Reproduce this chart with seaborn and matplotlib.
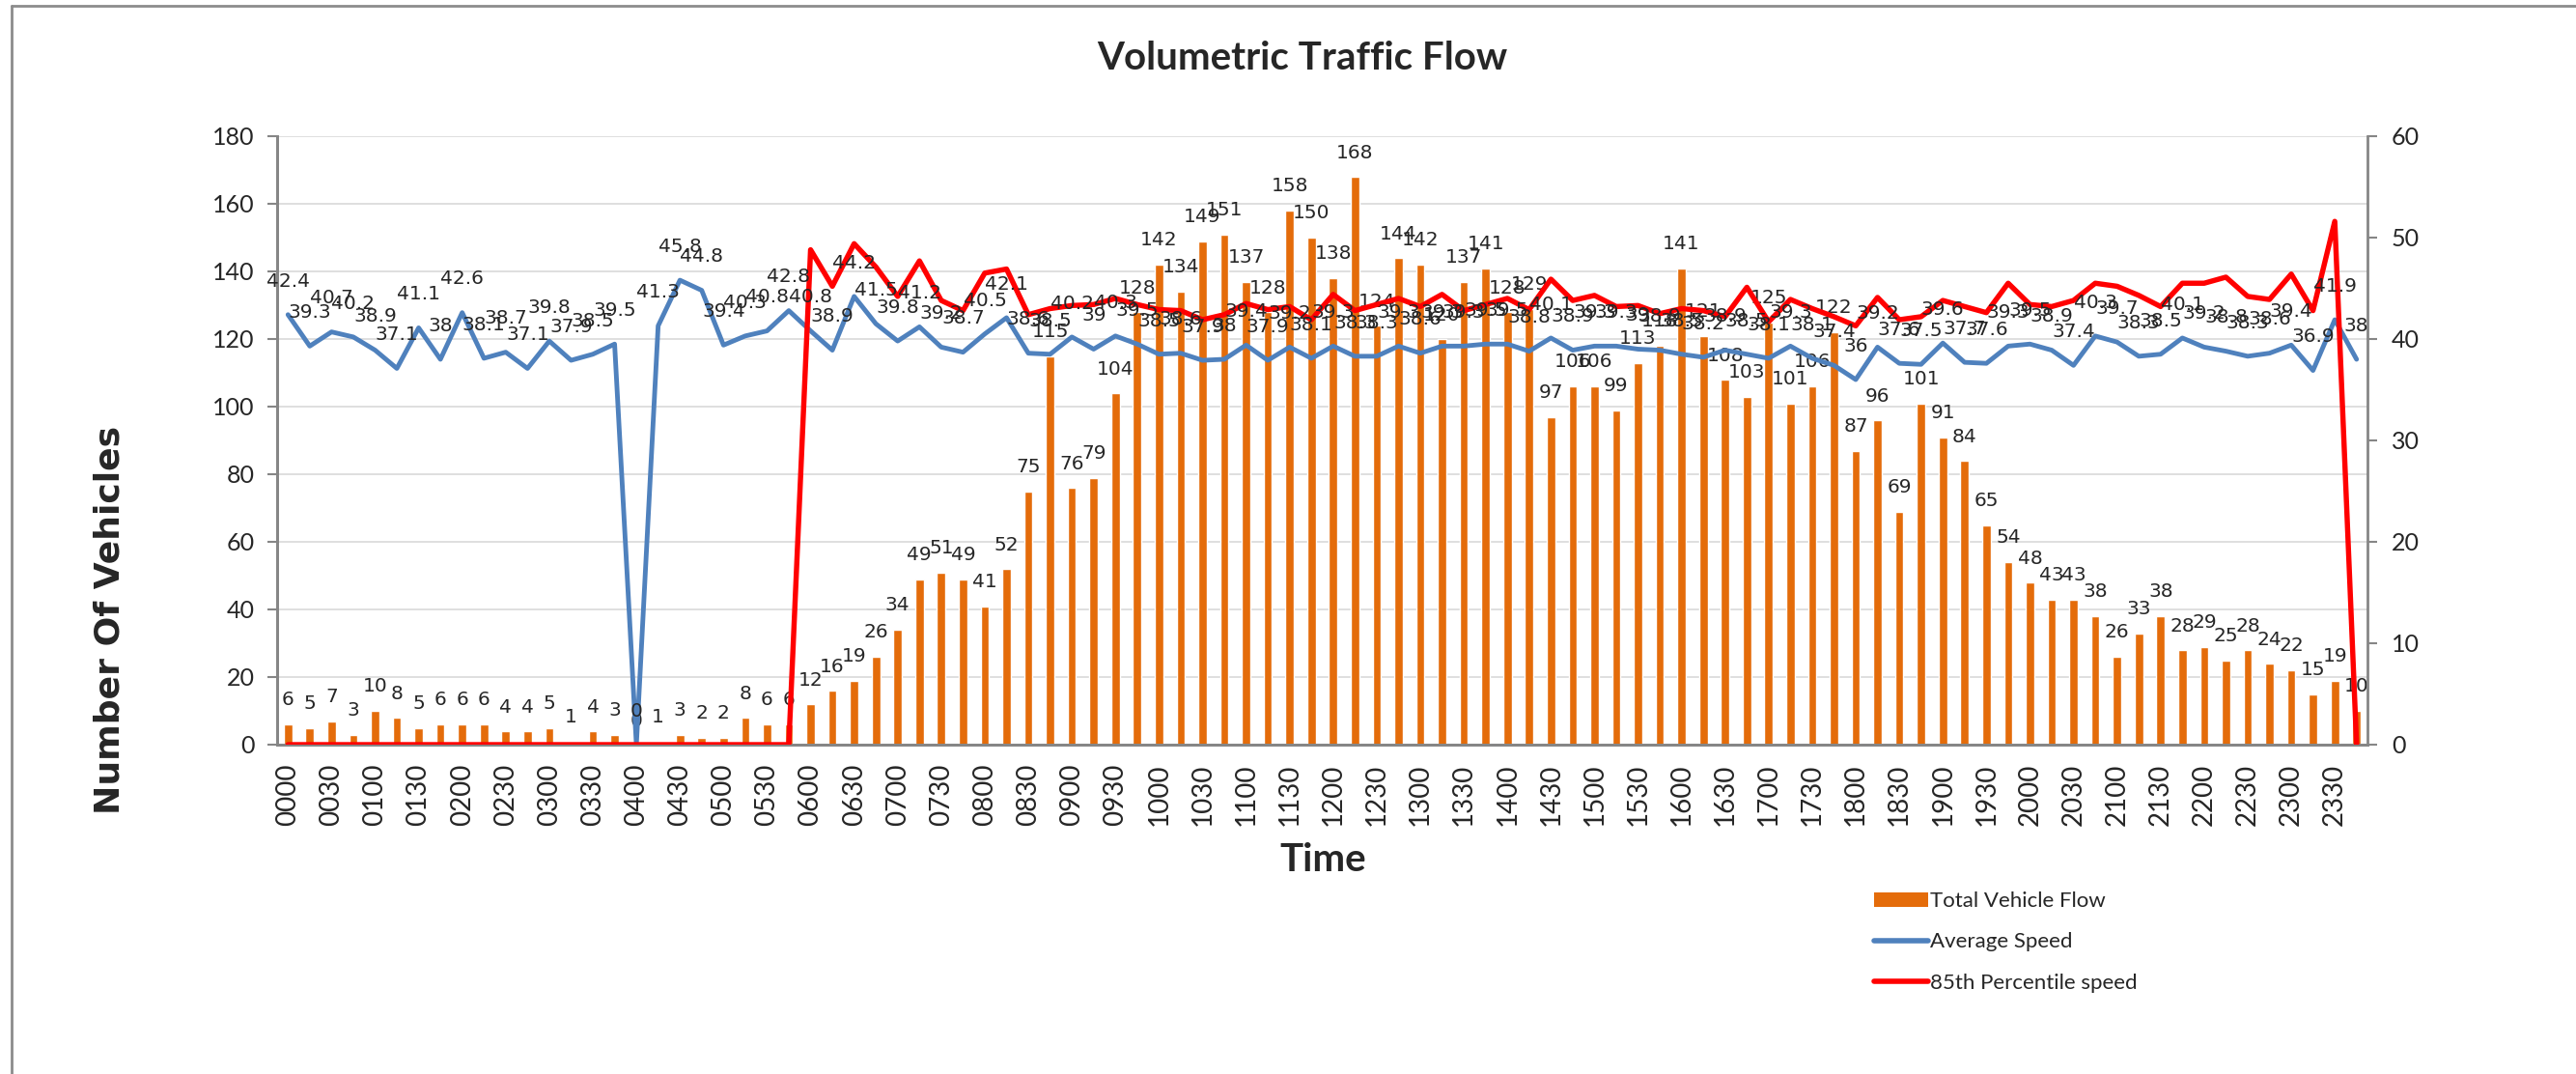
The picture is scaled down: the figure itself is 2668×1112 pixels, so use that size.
import numpy as np
import pandas as pd
import seaborn as sns
import matplotlib.pyplot as plt
from matplotlib.patches import Patch
from matplotlib.lines import Line2D

# 15 minute slots over the day
times = [f"{h:02d}{m:02d}" for h in range(24) for m in (0, 15, 30, 45)]

total_flow = [6, 5, 7, 3, 10, 8, 5, 6, 6, 6, 4, 4, 5, 1, 4, 3,
              0, 1, 3, 2, 2, 8, 6, 6,
              12, 16, 19, 26, 34, 49, 51, 49, 41, 52, 75, 115,
              76, 79, 104, 128, 142, 134, 149, 151, 137, 128, 158, 150, 138, 168, 124, 144, 142, 120, 137, 141,
              128, 129, 97, 106, 106, 99, 113, 118, 141, 121, 108, 103, 125, 101, 106, 122, 87, 96, 69, 101,
              91, 84, 65, 54, 48, 43, 43, 38, 26, 33, 38, 28, 29, 25, 28, 24, 22, 15, 19, 10]

avg_speed = [42.4, 39.3, 40.7, 40.2, 38.9, 37.1, 41.1, 38, 42.6, 38.1, 38.7, 37.1, 39.8, 37.9, 38.5, 39.5,
             0, 41.3, 45.8, 44.8, 39.4, 40.3, 40.8, 42.8,
             40.8, 38.9, 44.2, 41.5, 39.8, 41.2, 39.2, 38.7,
             40.5, 42.1, 38.6, 38.5, 40.2, 39, 40.3, 39.5, 38.5, 38.6, 37.9, 38, 39.4, 37.9, 39.2, 38.1,
             39.3, 38.3, 38.3, 39.3, 38.6, 39.3, 39.3, 39.5, 39.5, 38.8, 40.1, 38.9, 39.3, 39.3, 39, 38.9,
             38.5, 38.2, 38.9, 38.5, 38.1, 39.3, 38.1, 37.4, 36, 39.2, 37.6, 37.5, 39.6, 37.7, 37.6, 39.3,
             39.5, 38.9, 37.4, 40.3, 39.7, 38.3, 38.5, 40.1, 39.2, 38.8, 38.3, 38.6, 39.4, 36.9, 41.9, 38]

p85_speed = [0] * 24 + [
    48.8, 45.2, 49.4, 47.1, 44.2, 47.7, 43.8, 42.8,
    46.5, 46.9, 42.4, 43.0, 43.3, 43.4, 44.0, 43.4, 42.9, 42.8, 41.9, 42.4, 43.5, 42.9, 43.2, 41.9,
    44.4, 42.8, 43.4, 44.0, 43.2, 44.4, 42.8, 43.4, 44.0, 42.9, 45.9, 43.8, 44.3, 43.2, 43.3, 42.5,
    43.0, 42.8, 42.2, 45.1, 41.7, 43.9, 43.0, 42.2, 41.3, 44.1, 41.9, 42.2, 43.8, 43.2, 42.6, 45.5,
    43.4, 43.2, 43.8, 45.5, 45.2, 44.3, 43.2, 45.5, 45.5, 46.1, 44.2, 43.9, 46.4, 42.8, 51.6, 0]

df = pd.DataFrame({"Time": times, "Total Vehicle Flow": total_flow,
                   "Average Speed": avg_speed, "85th Percentile speed": p85_speed})
df["pos"] = np.arange(len(df))

orange = "#E46C0A"
blue = "#4F81BD"
red = "#FF0000"
axis_grey = "#868686"

sns.set_theme(style="white")
plt.rcParams["font.family"] = ["Lato", "DejaVu Sans"]

fig = plt.figure(figsize=(26.68, 11.12), dpi=100)
ax = fig.add_axes([287 / 2668, 1 - 771 / 1112, (2452 - 287) / 2668, 630 / 1112])

sns.barplot(data=df, x="Time", y="Total Vehicle Flow", color=orange, saturation=1,
            width=0.385, errorbar=None, ax=ax, zorder=2)
ax.set_ylim(0, 180)
ax.set_yticks(range(0, 181, 20))
ax.set_xlim(-0.5, 95.5)
ax.yaxis.grid(True, color="#D9D9D9", lw=1.2)
ax.set_axisbelow(True)

ax2 = ax.twinx()
sns.lineplot(data=df, x="pos", y="Average Speed", color=blue, lw=3.5, ax=ax2,
             legend=False, zorder=3, solid_joinstyle="round")
sns.lineplot(data=df, x="pos", y="85th Percentile speed", color=red, lw=3.9, ax=ax2,
             legend=False, zorder=4, solid_joinstyle="round")
ax2.set_ylim(0, 60)
ax2.set_yticks(range(0, 61, 10))
ax2.set_xlim(-0.5, 95.5)

# data labels
for i, v in enumerate(total_flow):
    ax.annotate(f"{v}", (i, v), xytext=(0, 18), textcoords="offset points",
                ha="center", va="center", fontsize=14.5, family="DejaVu Sans", zorder=6)
for i, v in enumerate(avg_speed):
    ax2.annotate(f"{v:g}", (i, v), xytext=(0, 25), textcoords="offset points",
                 ha="center", va="center", fontsize=14.5, family="DejaVu Sans", zorder=6)

ax.set_xticks(range(0, 96, 2))
ax.set_xticklabels(times[::2], rotation=90, fontsize=20)
ax.tick_params(axis="x", length=0, pad=14)
ax.tick_params(axis="y", length=7, width=1.5, color=axis_grey, labelsize=18, pad=10, left=True)
ax2.tick_params(axis="y", length=7, width=1.5, color=axis_grey, labelsize=18, pad=11, right=True)
ax.set_xlabel("")
ax.set_ylabel("")
ax2.set_xlabel("")
ax2.set_ylabel("")

for a in (ax, ax2):
    a.spines["top"].set_visible(False)
    for s in ("left", "right", "bottom"):
        a.spines[s].set_color(axis_grey)
        a.spines[s].set_linewidth(2)
ax.spines["right"].set_visible(False)

fig.text(1349 / 2668, 1 - 60 / 1112, "Volumetric Traffic Flow", fontsize=29,
         fontweight="bold", ha="center", va="center")
fig.text(1370 / 2668, 1 - 890 / 1112, "Time", fontsize=29, fontweight="bold",
         ha="center", va="center")
fig.text(114 / 2668, 1 - 642 / 1112, "Number Of Vehicles", fontsize=26, fontweight="bold",
         family="DejaVu Sans", rotation=90, ha="center", va="center")

handles = [Patch(facecolor=orange, edgecolor="none"),
           Line2D([], [], color=blue, lw=4, solid_capstyle="round"),
           Line2D([], [], color=red, lw=4, solid_capstyle="round")]
fig.legend(handles, ["Total Vehicle Flow", "Average Speed", "85th Percentile speed"],
           loc="upper left", bbox_to_anchor=(1930 / 2668, 1 - 912 / 1112), frameon=False,
           fontsize=16, handlelength=2.5, handletextpad=0.1, labelspacing=1.0, borderpad=0)

# chart area border
fig.add_artist(Line2D([12 / 2668, 12 / 2668], [0, 1 - 6 / 1112], color="#8C8C8C", lw=2))
fig.add_artist(Line2D([12 / 2668, 1], [1 - 6 / 1112, 1 - 6 / 1112], color="#8C8C8C", lw=2))

fig.savefig("out.png", dpi=100)
